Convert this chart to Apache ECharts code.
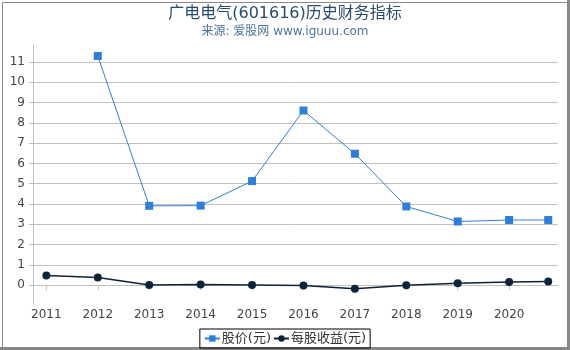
<!DOCTYPE html>
<html>
<head>
<meta charset="utf-8">
<script src="https://cdn.jsdelivr.net/npm/echarts@6/dist/echarts.min.js"></script>
<style>
html,body{margin:0;padding:0;background:#fff;}
#c{width:570px;height:350px;}
</style>
</head>
<body>
<div id="c"></div>
<script>
var titleText = '广电电气(601616)历史财务指标';
var subtitleText = '来源: 爱股网 www.iguuu.com';
var seriesNames = ['股价(元)', '每股收益(元)'];
var periods = [2011, 2012, 2013, 2014, 2015, 2016, 2017, 2018, 2019, 2020, 2020.76];
var priceValues = [null, 11.30, 3.91, 3.92, 5.13, 8.61, 6.48, 3.88, 3.14, 3.21, 3.21];
var epsValues = [0.47, 0.38, 0.01, 0.03, 0.01, -0.02, -0.18, 0.0, 0.09, 0.15, 0.18];
var xTickLabels = [2011, 2012, 2013, 2014, 2015, 2016, 2017, 2018, 2019, 2020];
var yTickLabels = [0, 1, 2, 3, 4, 5, 6, 7, 8, 9, 10, 11];

var FONT = '"DejaVu Sans", "Noto Sans CJK SC", sans-serif';
function pairs(vals) {
  var out = [];
  for (var i = 0; i < periods.length; i++) {
    if (vals[i] !== null) out.push([periods[i], vals[i]]);
  }
  return out;
}

var chart = echarts.init(document.getElementById('c'), null, {renderer: 'canvas'});
chart.setOption({
  animation: false,
  backgroundColor: '#fff',
  title: {
    text: titleText,
    subtext: subtitleText,
    left: 'center',
    top: 1,
    itemGap: 4,
    textStyle: {fontFamily: FONT, fontSize: 16, fontWeight: 'normal', color: '#274b6d'},
    subtextStyle: {fontFamily: FONT, fontSize: 12, color: '#4d759e'}
  },
  legend: {
    bottom: 2,
    left: 'center',
    borderColor: '#000',
    borderWidth: 1,
    borderRadius: 0,
    padding: [3, 4, 3, 4],
    itemGap: 2,
    itemWidth: 15,
    itemHeight: 8,
    textStyle: {fontFamily: FONT, fontSize: 13, color: '#333', padding: [0, 0, 0, -3]},
    data: seriesNames
  },
  grid: {left: 33, right: 12, top: 45, bottom: 46, containLabel: false},
  xAxis: {
    type: 'value',
    min: 2010.74,
    max: 2020.95,
    axisLine: {show: true, lineStyle: {color: '#c0c0c0', width: 1}},
    axisTick: {show: true, length: 5, lineStyle: {color: '#c0c0c0'}, customValues: xTickLabels},
    axisLabel: {customValues: xTickLabels, fontFamily: FONT, fontSize: 12, color: '#444', margin: 5,
      formatter: function (v) { return String(v); }},
    splitLine: {show: false}
  },
  yAxis: {
    type: 'value',
    min: -0.93,
    max: 11.84,
    axisLine: {show: true, lineStyle: {color: '#c0c0c0', width: 1}},
    axisTick: {show: true, length: 4, lineStyle: {color: '#c0c0c0'}, customValues: yTickLabels},
    axisLabel: {customValues: yTickLabels, fontFamily: FONT, fontSize: 12, color: '#444', margin: 8,
      formatter: function (v) { return String(v); }},
    splitLine: {show: true, lineStyle: {color: '#c0c0c0', width: 1}}
  },
  series: [
    {
      name: seriesNames[0],
      type: 'line',
      data: pairs(priceValues),
      symbol: 'rect',
      symbolSize: 8,
      color: '#2f7ed8',
      lineStyle: {width: 1, color: '#2f7ed8'},
      itemStyle: {color: '#2f7ed8'}
    },
    {
      name: seriesNames[1],
      type: 'line',
      data: pairs(epsValues),
      symbol: 'circle',
      symbolSize: 8,
      color: '#0d233a',
      lineStyle: {width: 1.5, color: '#0d233a'},
      itemStyle: {color: '#0d233a'}
    }
  ],
  graphic: [
    {type: 'rect', left: 0, top: 0, shape: {width: 570, height: 350}, silent: true,
     style: {fill: 'none', stroke: '#888', lineWidth: 1}},
    {type: 'rect', right: 0, top: 0, shape: {width: 3, height: 350}, silent: true, style: {fill: '#888'}},
    {type: 'rect', left: 0, bottom: 0, shape: {width: 570, height: 3}, silent: true, style: {fill: '#888'}}
  ]
});
</script>
</body>
</html>
